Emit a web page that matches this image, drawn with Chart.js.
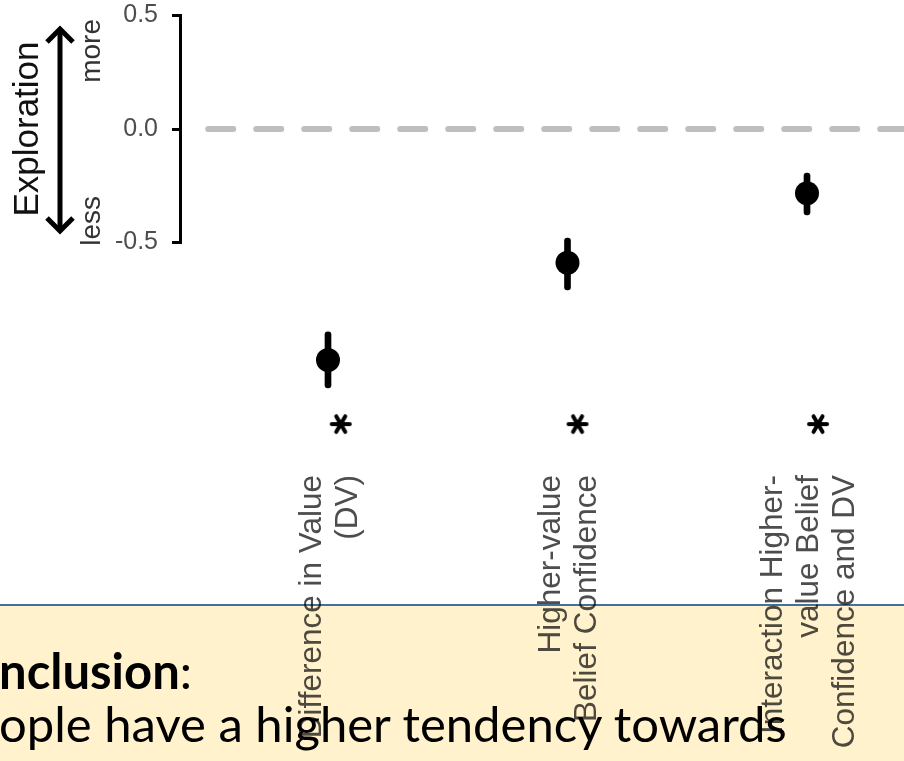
<!DOCTYPE html>
<html>
<head>
<meta charset="utf-8">
<script src="https://cdn.jsdelivr.net/npm/chart.js@4"></script>
<style>
  body { margin: 0; background: #fff; overflow: hidden; }
  #wrap { position: relative; width: 904px; height: 761px; }
  #box {
    position: absolute; left: 0; top: 604px; width: 904px; height: 157px;
    background: #FFF2CC; border-top: 2px solid #41719C; box-sizing: border-box;
    mix-blend-mode: multiply;
  }
  #note {
    position: absolute; left: -1px; top: 644px; width: 920px;
    font-family: Lato, "Open Sans", sans-serif; font-size: 49px; line-height: 53px;
    color: #000; white-space: nowrap;
  }
</style>
</head>
<body>
<div id="wrap">
  <canvas id="effects" width="904" height="761"></canvas>
  <div id="box"></div>
  <div id="note"><b>nclusion</b>:<br>ople have a higher tendency towards</div>
</div>
<script>
const categories = [
  ["Difference in Value", "(DV)"],
  ["Higher-value", "Belief Confidence"],
  ["Interaction Higher-", "value Belief", "Confidence and DV"]
]
const catX = [1, 2, 3]
const estimates = [-1.018, -0.589, -0.283]
const ciLow = [-1.141, -0.709, -0.379]
const ciHigh = [-0.894, -0.480, -0.194]
const starX = [1.053, 2.042, 3.046]
const starY = [-1.30, -1.30, -1.30]
const yTicks = [0.5, 0, -0.5]
const yTickLabels = ["0.5", "0.0", "-0.5"]
const refLineX = [0.5, 3.405]
const refLineY = [0, 0]

// asterisk marker
const star = document.createElement('canvas')
star.width = 26; star.height = 26
;(function() {
  const c = star.getContext('2d')
  c.strokeStyle = '#000'; c.lineWidth = 4; c.lineCap = 'round'
  for (const a of [0, 60, 120]) {
    const r = a * Math.PI / 180
    c.beginPath()
    c.moveTo(13 - 9 * Math.cos(r), 13 - 9 * Math.sin(r))
    c.lineTo(13 + 9 * Math.cos(r), 13 + 9 * Math.sin(r))
    c.stroke()
  }
})()

const decor = {
  id: 'decor',
  afterDraw(chart) {
    const ctx = chart.ctx, x = chart.scales.x, y = chart.scales.y, area = chart.chartArea
    ctx.save()
    // y axis line, only over the labelled range
    ctx.strokeStyle = '#000'; ctx.lineWidth = 3; ctx.lineCap = 'square'
    ctx.beginPath()
    ctx.moveTo(area.left - 1.5, y.getPixelForValue(yTicks[0]))
    ctx.lineTo(area.left - 1.5, y.getPixelForValue(yTicks[yTicks.length - 1]))
    ctx.stroke()

    // category labels, rotated, lines centred on the category
    ctx.fillStyle = '#4d4d4d'
    ctx.font = '31.5px "Liberation Sans", Arial, sans-serif'
    ctx.textAlign = 'right'; ctx.textBaseline = 'middle'
    categories.forEach((lines, i) => {
      const cx = x.getPixelForValue(catX[i])
      lines.forEach((t, j) => {
        ctx.save()
        ctx.translate(cx + 2 + (j - (lines.length - 1) / 2) * 36, area.bottom + 15)
        ctx.rotate(-Math.PI / 2)
        ctx.fillText(t, 0, 0)
        ctx.restore()
      })
    })

    // y title with arrow
    const y0 = y.getPixelForValue(0)
    ctx.fillStyle = '#111'
    ctx.font = '35px "Liberation Sans", Arial, sans-serif'
    ctx.textAlign = 'center'
    ctx.save(); ctx.translate(28, y0); ctx.rotate(-Math.PI / 2); ctx.fillText('Exploration', 0, 0); ctx.restore()

    const top = y.getPixelForValue(0.449), bot = y.getPixelForValue(-0.458)
    ctx.strokeStyle = '#000'; ctx.lineWidth = 5; ctx.lineCap = 'butt'; ctx.lineJoin = 'miter'
    ctx.beginPath(); ctx.moveTo(60, top + 2); ctx.lineTo(60, bot - 2); ctx.stroke()
    ctx.beginPath(); ctx.moveTo(47, top + 15); ctx.lineTo(60, top + 2); ctx.lineTo(73, top + 15); ctx.stroke()
    ctx.beginPath(); ctx.moveTo(47, bot - 15); ctx.lineTo(60, bot - 2); ctx.lineTo(73, bot - 15); ctx.stroke()

    ctx.fillStyle = '#333'
    ctx.font = '28px "Liberation Sans", Arial, sans-serif'
    ctx.textBaseline = 'alphabetic'
    ctx.save(); ctx.translate(100, y.getPixelForValue(0.344)); ctx.rotate(-Math.PI / 2); ctx.fillText('more', 0, 0); ctx.restore()
    ctx.save(); ctx.translate(100, y.getPixelForValue(-0.405)); ctx.rotate(-Math.PI / 2); ctx.fillText('less', 0, 0); ctx.restore()
    ctx.restore()
  }
}

new Chart(document.getElementById('effects'), {
  type: 'scatter',
  data: {
    datasets: [
      {
        data: catX.map((v, i) => ({ x: v, y: estimates[i] })),
        backgroundColor: '#000', borderWidth: 0, pointRadius: 12, order: 0
      },
      {
        data: starX.map((v, i) => ({ x: v, y: starY[i] })),
        pointStyle: star, pointRadius: 13, order: 0
      },
      {
        type: 'bar',
        data: catX.map((v, i) => ({ x: v, y: [ciLow[i], ciHigh[i]] })),
        backgroundColor: '#000', barThickness: 6, borderRadius: 3, borderSkipped: false, order: 1
      },
      {
        type: 'line',
        data: refLineX.map((v, i) => ({ x: v, y: refLineY[i] })),
        borderColor: '#bebebe', borderWidth: 6, borderDash: [25, 23], borderCapStyle: 'round',
        pointRadius: 0, order: 3
      }
    ]
  },
  options: {
    responsive: false,
    animation: false,
    devicePixelRatio: 1,
    events: [],
    layout: { autoPadding: false, padding: { left: 0, right: 0, top: 0, bottom: 301 } },
    scales: {
      x: { type: 'linear', display: false, offset: false, min: 0.3904, max: 3.405 },
      y: {
        min: -1.4581, max: 0.5683,
        afterFit: s => { s.width = 182; s.paddingTop = 0; s.paddingBottom = 0 },
        afterBuildTicks: s => { s.ticks = yTicks.map(v => ({ value: v })) },
        border: { display: false },
        grid: { drawOnChartArea: false, drawTicks: true, tickLength: 10, color: '#000', lineWidth: 3 },
        ticks: {
          padding: 14, color: '#4d4d4d',
          font: { family: '"Liberation Sans", Arial, sans-serif', size: 25 },
          callback: v => yTickLabels[yTicks.indexOf(v)]
        }
      }
    },
    plugins: { legend: { display: false }, tooltip: { enabled: false } }
  },
  plugins: [decor]
})
</script>
</body>
</html>
